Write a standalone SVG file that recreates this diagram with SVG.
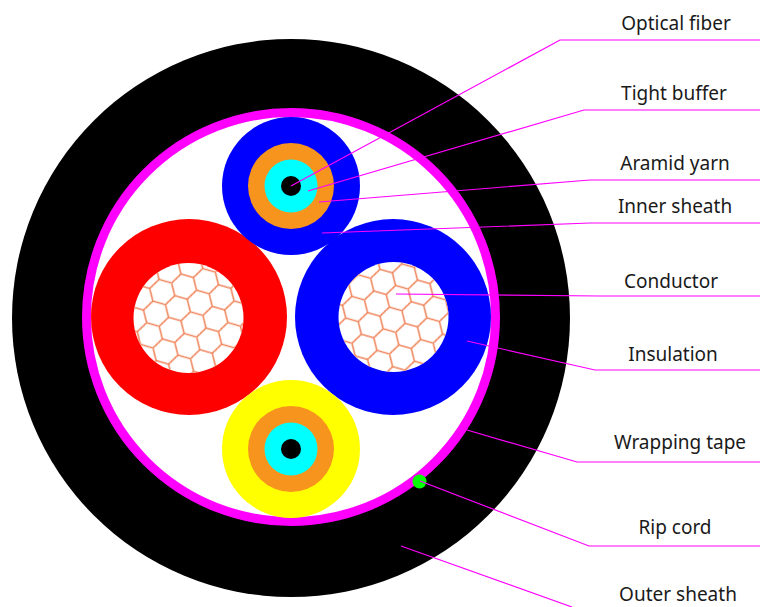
<svg xmlns="http://www.w3.org/2000/svg" width="760" height="607" viewBox="0 0 760 607">
<style>
text{font-family:"Noto Sans","Open Sans",sans-serif;font-size:19px;fill:#1a1a1a;text-anchor:middle}
.l{fill:none;stroke:#ff00ff;stroke-width:1.200}
.h{fill:#fff}
</style>
<defs>
<pattern id="m1" width="39" height="22.517" patternUnits="userSpaceOnUse" patternTransform="translate(174.700 272.200) rotate(16)">
<path d="M0,11.258L6.500,0H19.500L26,11.258L19.500,22.517H6.500ZM26,11.258H39" fill="none" stroke="#f0845a" stroke-width="1.500"/>
</pattern>
<pattern id="m2" width="39" height="22.517" patternUnits="userSpaceOnUse" patternTransform="translate(373.700 267.500) rotate(16)">
<path d="M0,11.258L6.500,0H19.500L26,11.258L19.500,22.517H6.500ZM26,11.258H39" fill="none" stroke="#f0845a" stroke-width="1.500"/>
</pattern>
</defs>
<g id="outer-sheath"><circle cx="291" cy="318" r="279" fill="#000"/></g>
<g id="wrapping-tape"><circle cx="291" cy="317" r="204.500" fill="#fff" stroke="#ff00ff" stroke-width="9"/></g>
<g id="core-red"><circle cx="189" cy="317" r="98" fill="#ff0000"/><circle class="h" cx="188.500" cy="318" r="55"/><circle cx="188.500" cy="318" r="55" fill="url(#m1)"/></g>
<g id="core-blue"><circle cx="393" cy="317" r="98" fill="#0000ff"/><circle class="h" cx="393.500" cy="317" r="55"/><circle cx="393.500" cy="317" r="55" fill="url(#m2)"/></g>
<g id="fiber-top"><circle cx="291" cy="186" r="69" fill="#0000ff"/><circle cx="291" cy="186" r="43" fill="#f7941d"/><circle cx="291" cy="186" r="26.500" fill="#00ffff"/><circle cx="291" cy="186" r="10" fill="#000"/></g>
<g id="fiber-bottom"><circle cx="291" cy="449" r="69" fill="#ffff00"/><circle cx="291" cy="449" r="43" fill="#f7941d"/><circle cx="291" cy="449" r="26.500" fill="#00ffff"/><circle cx="291" cy="449" r="10" fill="#000"/></g>
<g id="rip-cord"><circle cx="419.500" cy="481.500" r="7" fill="#00ff00"/></g>
<g id="connectors">
<path class="l" d="M291,186L560,40H760"/>
<path class="l" d="M308,191L584,110H760"/>
<path class="l" d="M319,202L590,180H760"/>
<path class="l" d="M322,233L590,223H760"/>
<path class="l" d="M396,294L600,296H760"/>
<path class="l" d="M467,341L595,370H760"/>
<path class="l" d="M467,430L577,462H760"/>
<path class="l" d="M420,481L589,546H760"/>
<path class="l" d="M401,546L572,607"/>
</g>
<g id="labels">
<text x="676" y="30">Optical fiber</text>
<text x="674" y="100">Tight buffer</text>
<text x="675" y="170">Aramid yarn</text>
<text x="675" y="213">Inner sheath</text>
<text x="671" y="288">Conductor</text>
<text x="673" y="361">Insulation</text>
<text x="680" y="449">Wrapping tape</text>
<text x="675" y="534">Rip cord</text>
<text x="678" y="601">Outer sheath</text>
</g>
</svg>
